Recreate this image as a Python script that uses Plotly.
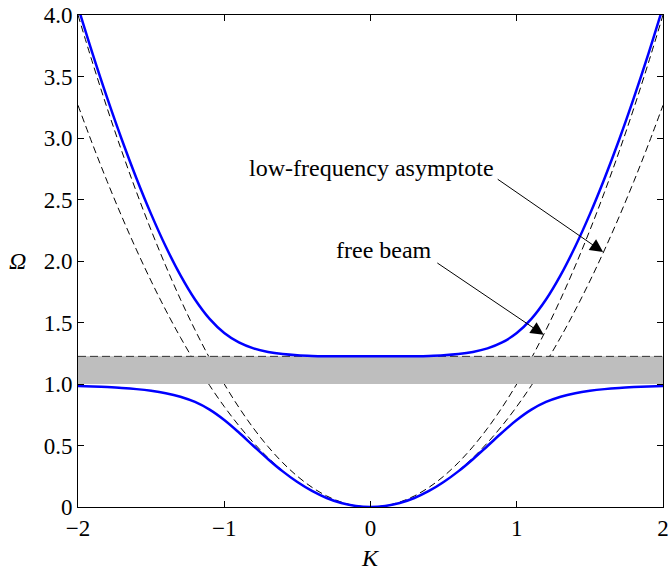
import plotly.graph_objects as go

# Wavenumber samples
K = [-2.0, -1.9, -1.8, -1.7, -1.6, -1.5, -1.4, -1.3, -1.2, -1.1, -1.0,
     -0.9, -0.8, -0.7, -0.6, -0.5, -0.4, -0.3, -0.2, -0.1, 0.0,
     0.1, 0.2, 0.3, 0.4, 0.5, 0.6, 0.7, 0.8, 0.9, 1.0,
     1.1, 1.2, 1.3, 1.4, 1.5, 1.6, 1.7, 1.8, 1.9, 2.0]

# Optical (upper) dispersion branch
omega_upper = [4.0660, 3.6840, 3.3238, 2.9858, 2.6712, 2.3811, 2.1178, 1.8847, 1.6866, 1.5290, 1.4142,
               1.3377, 1.2897, 1.2606, 1.2433, 1.2335, 1.2283, 1.2259, 1.2250, 1.2248, 1.2247,
               1.2248, 1.2250, 1.2259, 1.2283, 1.2335, 1.2433, 1.2606, 1.2897, 1.3377, 1.4142,
               1.5290, 1.6866, 1.8847, 2.1178, 2.3811, 2.6712, 2.9858, 3.3238, 3.6840, 4.0660]

# Acoustic (lower) dispersion branch
omega_lower = [0.9838, 0.9799, 0.9748, 0.9679, 0.9584, 0.9449, 0.9255, 0.8967, 0.8538, 0.7914, 0.7071,
               0.6055, 0.4962, 0.3887, 0.2896, 0.2027, 0.1303, 0.0734, 0.0327, 0.0082, 0.0000,
               0.0082, 0.0327, 0.0734, 0.1303, 0.2027, 0.2896, 0.3887, 0.4962, 0.6055, 0.7071,
               0.7914, 0.8538, 0.8967, 0.9255, 0.9449, 0.9584, 0.9679, 0.9748, 0.9799, 0.9838]

# Free beam
omega_free = [4.00, 3.61, 3.24, 2.89, 2.56, 2.25, 1.96, 1.69, 1.44, 1.21, 1.00,
              0.81, 0.64, 0.49, 0.36, 0.25, 0.16, 0.09, 0.04, 0.01, 0.00,
              0.01, 0.04, 0.09, 0.16, 0.25, 0.36, 0.49, 0.64, 0.81, 1.00,
              1.21, 1.44, 1.69, 1.96, 2.25, 2.56, 2.89, 3.24, 3.61, 4.00]

# Low-frequency asymptote
omega_asym = [3.2660, 2.9476, 2.6455, 2.3597, 2.0902, 1.8371, 1.6003, 1.3799, 1.1758, 0.9880, 0.8165,
              0.6614, 0.5226, 0.4001, 0.2939, 0.2041, 0.1306, 0.0735, 0.0327, 0.0082, 0.0000,
              0.0082, 0.0327, 0.0735, 0.1306, 0.2041, 0.2939, 0.4001, 0.5226, 0.6614, 0.8165,
              0.9880, 1.1758, 1.3799, 1.6003, 1.8371, 2.0902, 2.3597, 2.6455, 2.9476, 3.2660]

# Band gap limits
GAP_LOW = 1.0
GAP_HIGH = 1.2247
K_MIN, K_MAX = -2.0, 2.0

x_ticks = [-2, -1, 0, 1, 2]
x_ticktext = ["\u22122", "\u22121", "0", "1", "2"]
y_ticks = [0, 0.5, 1.0, 1.5, 2.0, 2.5, 3.0, 3.5, 4.0]
y_ticktext = ["0", "0.5", "1.0", "1.5", "2.0", "2.5", "3.0", "3.5", "4.0"]

FONT = "'Liberation Serif', 'DejaVu Serif', serif"
TICK_FS = 23
TEXT_FS = 24

fig = go.Figure()

dash_style = dict(color="black", width=1, dash="7px,4px")
fig.add_trace(go.Scatter(x=K, y=omega_free, mode="lines", line=dash_style,
                         line_shape="spline", showlegend=False, hoverinfo="skip"))
fig.add_trace(go.Scatter(x=K, y=omega_asym, mode="lines", line=dash_style,
                         line_shape="spline", showlegend=False, hoverinfo="skip"))

# Shaded band gap
fig.add_trace(go.Scatter(x=[K_MIN, K_MAX, K_MAX, K_MIN, K_MIN],
                         y=[GAP_LOW, GAP_LOW, GAP_HIGH, GAP_HIGH, GAP_LOW],
                         mode="none", fill="toself", fillcolor="#bebebe",
                         showlegend=False, hoverinfo="skip"))
fig.add_trace(go.Scatter(x=[K_MIN, K_MAX], y=[GAP_HIGH, GAP_HIGH], mode="lines",
                         line=dict(color="#333333", width=1, dash="8px,4px"),
                         showlegend=False, hoverinfo="skip"))

blue = dict(color="#0000ff", width=2.5)
fig.add_trace(go.Scatter(x=K, y=omega_upper, mode="lines", line=blue,
                         line_shape="spline", showlegend=False))
fig.add_trace(go.Scatter(x=K, y=omega_lower, mode="lines", line=blue,
                         line_shape="spline", showlegend=False))

axis_common = dict(showline=True, linecolor="black", linewidth=1, mirror="ticks",
                   ticks="inside", ticklen=6, tickcolor="black", tickwidth=1,
                   showgrid=False, zeroline=False,
                   tickfont=dict(family=FONT, size=TICK_FS, color="black"))

fig.update_xaxes(range=[K_MIN, K_MAX], tickvals=x_ticks, ticktext=x_ticktext,
                 ticklabeloverflow="allow", **axis_common)
fig.update_yaxes(range=[0, 4], tickvals=y_ticks, ticktext=y_ticktext, **axis_common)

txt = dict(family=FONT, size=TEXT_FS, color="black")
arrow = dict(showarrow=True, arrowhead=2, arrowsize=2.6, arrowwidth=1,
             arrowcolor="black", axref="x", ayref="y", text="")
annotations = [
    dict(x=0.0034, y=2.755, text="low-frequency asymptote", showarrow=False, font=txt),
    dict(x=0.0914, y=2.089, text="free beam", showarrow=False, font=txt),
    dict(x=1.5905, y=2.073, ax=0.8596, ay=2.673, **arrow),
    dict(x=1.1844, y=1.3996, ax=0.4467, ay=1.992, **arrow),
    dict(x=0, y=-0.103, xref="x", yref="paper", text="<i>K</i>", showarrow=False,
         font=txt, yanchor="middle"),
    dict(x=-0.103, y=2.0, xref="paper", yref="y", text="<i>\u03a9</i>", showarrow=False,
         font=txt, xanchor="center"),
]
fig.update_layout(annotations=annotations)

fig.update_layout(width=670, height=571, margin=dict(l=77.5, r=1.5, t=14.5, b=63.5),
                  paper_bgcolor="white", plot_bgcolor="white",
                  font=dict(family=FONT, size=TICK_FS, color="black"))

fig.write_html("out.html")
